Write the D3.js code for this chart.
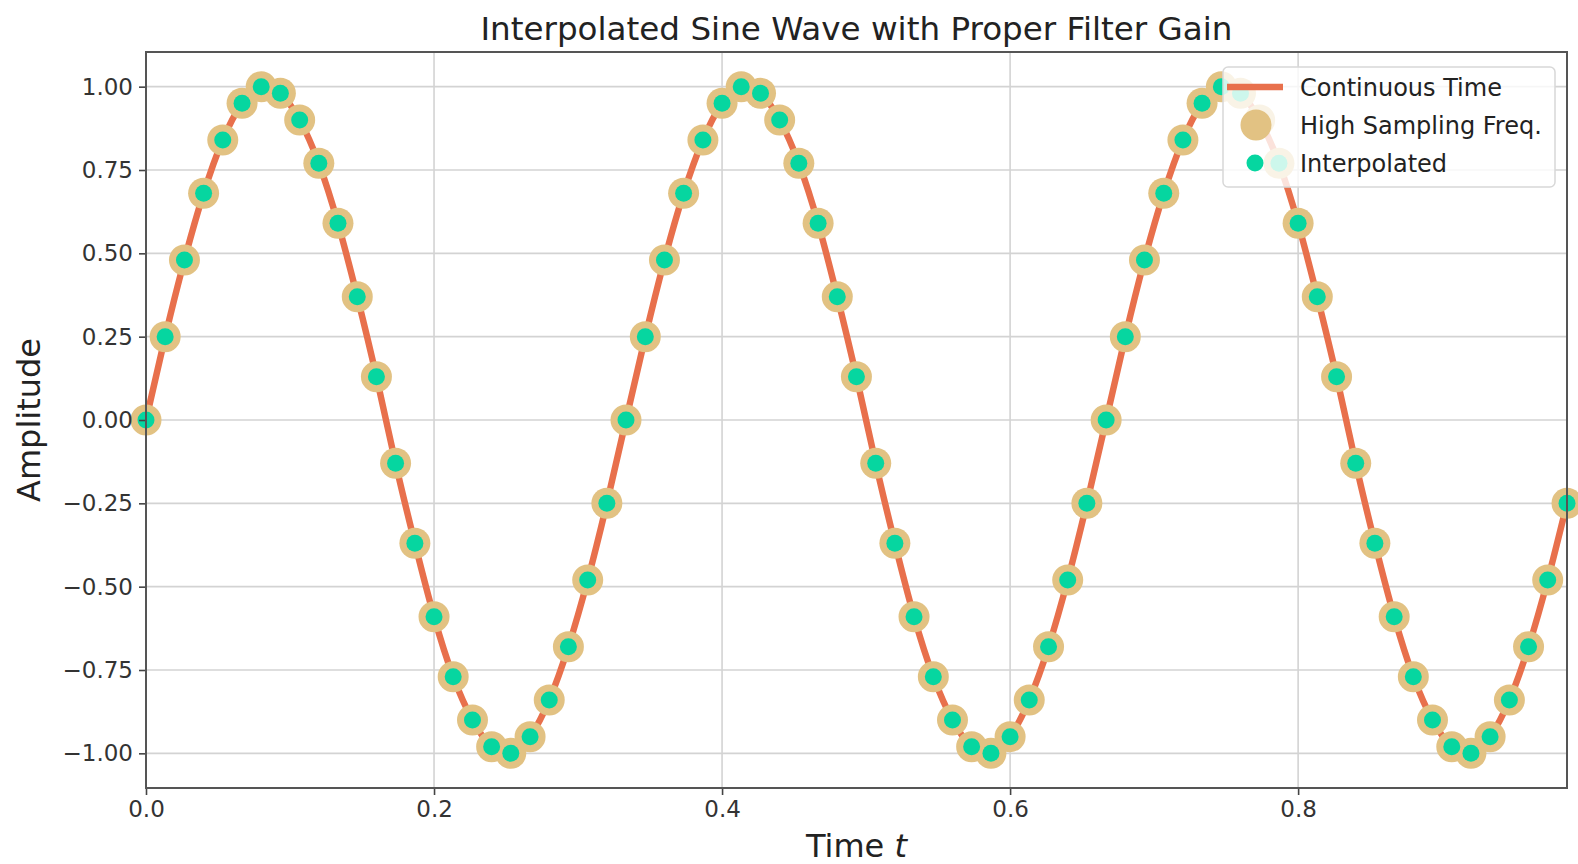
<!DOCTYPE html>
<html>
<head>
<meta charset="utf-8">
<script src="https://cdn.jsdelivr.net/npm/d3@7"></script>
<style>
  html, body { margin: 0; padding: 0; background: #fff; }
  svg { display: block; font-family: "DejaVu Sans", sans-serif; }
</style>
</head>
<body>
<svg id="chart" width="1578" height="864"></svg>
<script>
// ---- data ----
const times = [0.0000,0.0133,0.0267,0.0400,0.0533,0.0667,0.0800,0.0933,0.1067,0.1200,0.1333,0.1467,0.1600,0.1733,0.1867,0.2000,0.2133,0.2267,0.2400,0.2533,0.2667,0.2800,0.2933,0.3067,0.3200,
               0.3333,0.3467,0.3600,0.3733,0.3867,0.4000,0.4133,0.4267,0.4400,0.4533,0.4667,0.4800,0.4933,0.5067,0.5200,0.5333,0.5467,0.5600,0.5733,0.5867,0.6000,0.6133,0.6267,0.6400,0.6533,
               0.6667,0.6800,0.6933,0.7067,0.7200,0.7333,0.7467,0.7600,0.7733,0.7867,0.8000,0.8133,0.8267,0.8400,0.8533,0.8667,0.8800,0.8933,0.9067,0.9200,0.9333,0.9467,0.9600,0.9733,0.9867];
const highSampling = [0.00,0.25,0.48,0.68,0.84,0.95,1.00,0.98,0.90,0.77,0.59,0.37,0.13,-0.13,-0.37,-0.59,-0.77,-0.90,-0.98,-1.00,-0.95,-0.84,-0.68,-0.48,-0.25,
                      0.00,0.25,0.48,0.68,0.84,0.95,1.00,0.98,0.90,0.77,0.59,0.37,0.13,-0.13,-0.37,-0.59,-0.77,-0.90,-0.98,-1.00,-0.95,-0.84,-0.68,-0.48,-0.25,
                      0.00,0.25,0.48,0.68,0.84,0.95,1.00,0.98,0.90,0.77,0.59,0.37,0.13,-0.13,-0.37,-0.59,-0.77,-0.90,-0.98,-1.00,-0.95,-0.84,-0.68,-0.48,-0.25];
const interpolated = [0.00,0.25,0.48,0.68,0.84,0.95,1.00,0.98,0.90,0.77,0.59,0.37,0.13,-0.13,-0.37,-0.59,-0.77,-0.90,-0.98,-1.00,-0.95,-0.84,-0.68,-0.48,-0.25,
                      0.00,0.25,0.48,0.68,0.84,0.95,1.00,0.98,0.90,0.77,0.59,0.37,0.13,-0.13,-0.37,-0.59,-0.77,-0.90,-0.98,-1.00,-0.95,-0.84,-0.68,-0.48,-0.25,
                      0.00,0.25,0.48,0.68,0.84,0.95,1.00,0.98,0.90,0.77,0.59,0.37,0.13,-0.13,-0.37,-0.59,-0.77,-0.90,-0.98,-1.00,-0.95,-0.84,-0.68,-0.48,-0.25];
const xTicks = [0.0, 0.2, 0.4, 0.6, 0.8];
const yTicks = [-1.00, -0.75, -0.50, -0.25, 0.00, 0.25, 0.50, 0.75, 1.00];
const legendLabels = ["Continuous Time", "High Sampling Freq.", "Interpolated"];

// ---- layout ----
const W = 1578, H = 864;
const m = { left: 146, right: 1567, top: 52, bottom: 788 };
const C_LINE = "#e8704c", C_TAN = "#e2c283", C_GREEN = "#06d6a0";

const svg = d3.select("#chart");
const x = d3.scaleLinear().domain([0, 0.9867]).range([m.left, m.right]);
const y = d3.scaleLinear().domain([-1.104, 1.104]).range([m.bottom, m.top]);

// grid
const grid = svg.append("g");
grid.selectAll(".gx").data(xTicks).join("line")
  .attr("x1", d => x(d)).attr("x2", d => x(d))
  .attr("y1", m.top).attr("y2", m.bottom)
  .attr("stroke", "#d3d3d3").attr("stroke-width", 1.6);
grid.selectAll(".gy").data(yTicks).join("line")
  .attr("x1", m.left).attr("x2", m.right)
  .attr("y1", d => y(d)).attr("y2", d => y(d))
  .attr("stroke", "#d3d3d3").attr("stroke-width", 1.6);

// data
const pts = times.map((t, i) => ({ t, v: highSampling[i], iv: interpolated[i] }));
const plot = svg.append("g");
plot.append("path").datum(pts)
  .attr("fill", "none").attr("stroke", C_LINE).attr("stroke-width", 6.5)
  .attr("d", d3.line().x(d => x(d.t)).y(d => y(d.v)).curve(d3.curveNatural));
plot.selectAll(".hs").data(pts).join("circle")
  .attr("cx", d => x(d.t)).attr("cy", d => y(d.v)).attr("r", 15.5)
  .attr("fill", C_TAN);
plot.selectAll(".ip").data(pts).join("circle")
  .attr("cx", d => x(d.t)).attr("cy", d => y(d.iv)).attr("r", 8.5)
  .attr("fill", C_GREEN);

// axes
const xAxis = svg.append("g").attr("transform", `translate(0,${m.bottom})`)
  .call(d3.axisBottom(x).tickValues(xTicks).tickFormat(d3.format(".1f")).tickSize(7).tickPadding(6));
const yAxis = svg.append("g").attr("transform", `translate(${m.left},0)`)
  .call(d3.axisLeft(y).tickValues(yTicks).tickFormat(d => d3.format(".2f")(d).replace("-", "\u2212")).tickSize(7).tickPadding(6));
[xAxis, yAxis].forEach(a => {
  a.select(".domain").remove();
  a.selectAll(".tick line").attr("stroke", "#444").attr("stroke-width", 1.6);
  a.selectAll(".tick text").attr("fill", "#333").style("font-size", "23px").style("font-family", "DejaVu Sans");
});

// frame
svg.append("rect").attr("x", m.left).attr("y", m.top)
  .attr("width", m.right - m.left).attr("height", m.bottom - m.top)
  .attr("fill", "none").attr("stroke", "#555").attr("stroke-width", 2);

// title and labels
svg.append("text").attr("x", (m.left + m.right) / 2).attr("y", 40)
  .attr("text-anchor", "middle").attr("fill", "#222").style("font-size", "32.6px")
  .text("Interpolated Sine Wave with Proper Filter Gain");
const xl = svg.append("text").attr("x", (m.left + m.right) / 2).attr("y", 857)
  .attr("text-anchor", "middle").attr("fill", "#222").style("font-size", "32px");
xl.append("tspan").text("Time ");
xl.append("tspan").style("font-style", "italic").text("t");
svg.append("text").attr("transform", `translate(40,${(m.top + m.bottom) / 2}) rotate(-90)`)
  .attr("text-anchor", "middle").attr("fill", "#222").style("font-size", "32px")
  .text("Amplitude");

// legend
const lg = svg.append("g").attr("transform", "translate(1223,67)");
lg.append("rect").attr("width", 332).attr("height", 120).attr("rx", 5)
  .attr("fill", "#fff").attr("fill-opacity", 0.8).attr("stroke", "#d8d8d8").attr("stroke-width", 1.5);
const rowY = [20, 58, 96];
lg.append("line").attr("x1", 4).attr("x2", 60).attr("y1", rowY[0]).attr("y2", rowY[0])
  .attr("stroke", C_LINE).attr("stroke-width", 6.5);
lg.append("circle").attr("cx", 33).attr("cy", rowY[1]).attr("r", 15.5).attr("fill", C_TAN);
lg.append("circle").attr("cx", 32).attr("cy", rowY[2]).attr("r", 8.5).attr("fill", C_GREEN);
lg.selectAll(".lt").data(legendLabels).join("text")
  .attr("x", 77).attr("y", (d, i) => rowY[i]).attr("dy", "0.36em")
  .attr("fill", "#222").style("font-size", "24px").text(d => d);
</script>
</body>
</html>
